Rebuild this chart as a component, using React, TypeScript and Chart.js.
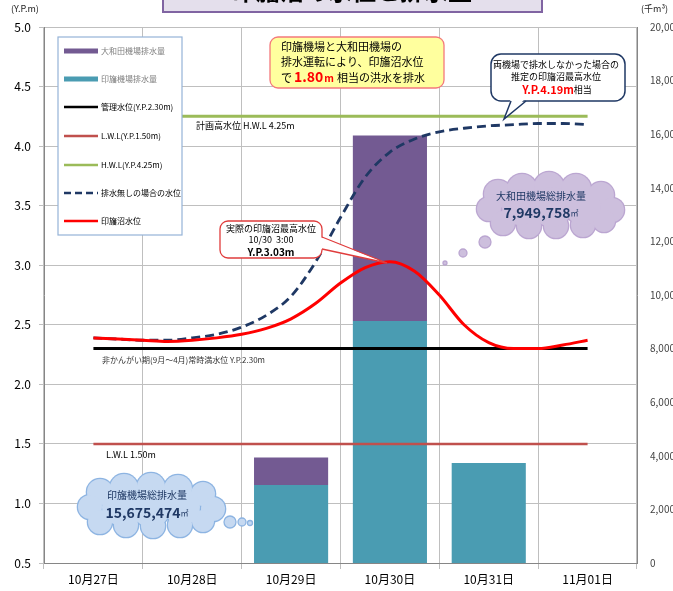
import React, { useEffect, useRef } from 'react';
import { Chart, registerables } from 'chart.js';
Chart.register(...registerables);

const FONT = '"Noto Sans CJK JP", "Noto Sans", sans-serif';

// ---- data ----
const categories = ['10月27日', '10月28日', '10月29日', '10月30日', '10月31日', '11月01日'];
// 千m3 per day
const inbaDrainage = [null, null, 2910, 9030, 3735, null];
const owadaDrainage = [null, null, 1030, 6920, null, null];
// time in days from 10/27 (category index units)
const timeDays = [0, 0.25, 0.5, 0.75, 1, 1.25, 1.5, 1.75, 2, 2.25, 2.5, 2.75, 3, 3.25, 3.5, 3.75, 4, 4.25, 4.5, 4.75, 5];
const actualLevel = [2.39, 2.38, 2.37, 2.36, 2.37, 2.39, 2.42, 2.47, 2.55, 2.68, 2.85, 2.98, 3.03, 2.95, 2.75, 2.5, 2.35, 2.3, 2.3, 2.33, 2.37];
const noDrainLevel = [2.39, 2.38, 2.37, 2.37, 2.39, 2.42, 2.48, 2.58, 2.74, 3.03, 3.4, 3.74, 3.95, 4.06, 4.12, 4.15, 4.17, 4.18, 4.19, 4.19, 4.18];
const managementLevel = 2.3;
const lwlLevel = 1.5;
const hwlLevel = 4.25;
const lineSpan = [0, 5];

const labelOwada = '大和田機場排水量';
const labelInba = '印旛機場排水量';
const labelMgmt = '管理水位(Y.P.2.30m)';
const labelLwl = 'L.W.L(Y.P.1.50m)';
const labelHwl = 'H.W.L(Y.P.4.25m)';
const labelNoDrain = '排水無しの場合の水位';
const labelActual = '印旛沼水位';

const C_PURPLE = '#735A92';
const C_TEAL = '#4A9CB2';
const C_LWL = '#C0504D';
const C_HWL = '#9BBB59';
const C_NAVY = '#1F3864';

function rr(ctx: CanvasRenderingContext2D, x: number, y: number, w: number, h: number, r: number) {
  ctx.beginPath();
  ctx.moveTo(x + r, y);
  ctx.arcTo(x + w, y, x + w, y + h, r);
  ctx.arcTo(x + w, y + h, x, y + h, r);
  ctx.arcTo(x, y + h, x, y, r);
  ctx.arcTo(x, y, x + w, y, r);
  ctx.closePath();
}

function text(ctx: CanvasRenderingContext2D, s: string, x: number, y: number, font: string, color: string, align: CanvasTextAlign = 'left') {
  ctx.font = font;
  ctx.fillStyle = color;
  ctx.textAlign = align;
  ctx.textBaseline = 'middle';
  ctx.fillText(s, x, y);
  return ctx.measureText(s).width;
}

// draws a sequence of [string, font, color] pieces centred on cx
function runs(ctx: CanvasRenderingContext2D, parts: [string, string, string][], cx: number, y: number) {
  let total = 0;
  parts.forEach(([s, f]) => { ctx.font = f; total += ctx.measureText(s).width; });
  let x = cx - total / 2;
  parts.forEach(([s, f, c]) => { x += text(ctx, s, x, y, f, c); });
}

function cloud(ctx: CanvasRenderingContext2D, circles: number[][], fill: string, stroke: string) {
  ctx.fillStyle = stroke;
  circles.forEach(([x, y, r]) => { ctx.beginPath(); ctx.arc(x, y, r + 1.3, 0, Math.PI * 2); ctx.fill(); });
  ctx.fillStyle = fill;
  circles.forEach(([x, y, r]) => { ctx.beginPath(); ctx.arc(x, y, r, 0, Math.PI * 2); ctx.fill(); });
}

function bubble(ctx: CanvasRenderingContext2D, x: number, y: number, r: number, fill: string, stroke: string) {
  ctx.beginPath(); ctx.arc(x, y, r, 0, Math.PI * 2);
  ctx.fillStyle = fill; ctx.fill();
  ctx.lineWidth = 1.3; ctx.strokeStyle = stroke; ctx.stroke();
}

const overlayPlugin = {
  id: 'overlay',
  afterDraw(chart: any) {
    const ctx: CanvasRenderingContext2D = chart.ctx;
    ctx.save();
    // title box (mostly cut off)
    ctx.fillStyle = '#E4DFEC';
    ctx.fillRect(163, -30, 379, 42);
    ctx.lineWidth = 2; ctx.strokeStyle = '#8064A2';
    ctx.strokeRect(163, -30, 379, 42);
    ctx.font = `bold 24px ${FONT}`; ctx.fillStyle = '#000'; ctx.textAlign = 'center'; ctx.textBaseline = 'ideographic';
    ctx.fillText('印旛沼の水位と排水量', 352, 3);

    // units
    text(ctx, '(Y.P.m)', 11, 9, `9px ${FONT}`, '#222');
    text(ctx, '(千m³)', 641, 9, `9px ${FONT}`, '#222');

    // legend
    ctx.fillStyle = '#FFFFFF';
    ctx.fillRect(58, 37, 124, 198);
    ctx.lineWidth = 1.2; ctx.strokeStyle = '#95B3D7';
    ctx.strokeRect(58, 37, 124, 198);
    const items = [
      { l: labelOwada, c: C_PURPLE, bar: true, tc: '#7F7F7F', y: 51 },
      { l: labelInba, c: C_TEAL, bar: true, tc: '#7F7F7F', y: 79 },
      { l: labelMgmt, c: '#000', tc: '#000', y: 107 },
      { l: labelLwl, c: C_LWL, tc: '#000', y: 136 },
      { l: labelHwl, c: C_HWL, tc: '#000', y: 165 },
      { l: labelNoDrain, c: C_NAVY, dash: true, tc: '#000', y: 193 },
      { l: labelActual, c: '#FF0000', tc: '#000', y: 221 },
    ];
    items.forEach((it: any) => {
      if (it.bar) {
        ctx.fillStyle = it.c; ctx.fillRect(64, it.y - 2.5, 34, 5);
      } else {
        ctx.beginPath(); ctx.setLineDash(it.dash ? [7, 4] : []);
        ctx.moveTo(64, it.y); ctx.lineTo(98, it.y);
        ctx.lineWidth = 2.5; ctx.strokeStyle = it.c; ctx.stroke(); ctx.setLineDash([]);
      }
      text(ctx, it.l, 101, it.y, `8px ${FONT}`, it.tc);
    });

    // reference line labels
    text(ctx, '計画高水位 H.W.L 4.25m', 196, 126, `9px ${FONT}`, '#000');
    text(ctx, '非かんがい期(9月～4月)常時満水位 Y.P.2.30m', 102, 360, `8px ${FONT}`, '#333');
    text(ctx, 'L.W.L 1.50m', 106, 455, `9px ${FONT}`, '#000');

    // yellow note
    rr(ctx, 270, 37, 174, 51, 8);
    ctx.fillStyle = '#FFFF9E'; ctx.fill();
    ctx.lineWidth = 1.3; ctx.strokeStyle = '#F4797C'; ctx.stroke();
    text(ctx, '印旛機場と大和田機場の', 281, 47, `11px ${FONT}`, '#000');
    text(ctx, '排水運転により、印旛沼水位', 281, 62, `11px ${FONT}`, '#000');
    text(ctx, 'で', 281, 78, `11px ${FONT}`, '#000');
    let xx = 294;
    xx += text(ctx, '1.80', xx, 77, `bold 14px ${FONT}`, '#FF0000');
    text(ctx, 'm', xx + 1, 78, `bold 10px ${FONT}`, '#FF0000');
    text(ctx, '相当の洪水を排水', 337, 78, `11px ${FONT}`, '#000');

    // navy callout
    rr(ctx, 491, 54, 134, 47, 10);
    ctx.fillStyle = '#FFFFFF'; ctx.fill();
    ctx.lineWidth = 1.5; ctx.strokeStyle = C_NAVY; ctx.stroke();
    ctx.beginPath(); ctx.moveTo(511, 98); ctx.lineTo(504, 119); ctx.lineTo(526, 98); ctx.closePath();
    ctx.fillStyle = '#FFFFFF'; ctx.fill();
    ctx.beginPath(); ctx.moveTo(511, 101); ctx.lineTo(504, 119); ctx.lineTo(526, 101); ctx.stroke();
    text(ctx, '両機場で排水しなかった場合の', 556, 65, `9px ${FONT}`, '#000', 'center');
    text(ctx, '推定の印旛沼最高水位', 556, 77, `9px ${FONT}`, '#000', 'center');
    runs(ctx, [['Y.P.4.19m', `bold 11px ${FONT}`, '#FF0000'], ['相当', `9px ${FONT}`, '#000']], 557, 90);

    // red callout
    rr(ctx, 220, 221, 102, 37, 8);
    ctx.fillStyle = '#FFFFFF'; ctx.fill();
    ctx.lineWidth = 1.3; ctx.strokeStyle = '#E03C3C'; ctx.stroke();
    ctx.beginPath(); ctx.moveTo(320, 237); ctx.lineTo(387, 263); ctx.lineTo(320, 249); ctx.closePath();
    ctx.fillStyle = '#FFFFFF'; ctx.fill();
    ctx.beginPath(); ctx.moveTo(322, 237); ctx.lineTo(387, 263); ctx.lineTo(322, 249); ctx.stroke();
    text(ctx, '実際の印旛沼最高水位', 271, 229, `9px ${FONT}`, '#000', 'center');
    text(ctx, '10/30  3:00', 271, 240, `9px ${FONT}`, '#000', 'center');
    text(ctx, 'Y.P.3.03m', 271, 252, `bold 10px ${FONT}`, '#000', 'center');

    // purple cloud
    const pc = [
      [498, 194, 14], [522, 189, 15], [549, 187, 15], [576, 189, 15], [601, 195, 13],
      [489, 209, 12], [612, 210, 12],
      [503, 223, 12], [529, 226, 12], [556, 226, 12], [583, 225, 12], [604, 221, 11],
      [520, 207, 18], [552, 207, 20], [583, 207, 18],
    ];
    cloud(ctx, pc, '#CDBFDD', '#BBA6D1');
    bubble(ctx, 485, 242, 6, '#CDBFDD', '#BBA6D1');
    bubble(ctx, 463, 253, 4, '#CDBFDD', '#BBA6D1');
    bubble(ctx, 445, 263, 2, '#CDBFDD', '#BBA6D1');
    text(ctx, '大和田機場総排水量', 541, 196, `10px ${FONT}`, C_NAVY, 'center');
    runs(ctx, [['7,949,758', `bold 14px ${FONT}`, C_NAVY], ['㎡', `8px ${FONT}`, C_NAVY]], 541, 213);

    // blue cloud
    const bc = [
      [100, 492, 13], [124, 488, 14], [151, 487, 14], [178, 489, 14], [203, 494, 12],
      [90, 507, 12], [213, 509, 12],
      [100, 522, 12], [126, 525, 12], [153, 526, 12], [180, 525, 12], [203, 521, 11],
      [120, 507, 18], [151, 507, 20], [182, 507, 18],
    ];
    cloud(ctx, bc, '#C6D9F1', '#8DB4E2');
    bubble(ctx, 230, 522, 6, '#C6D9F1', '#8DB4E2');
    bubble(ctx, 242, 522, 4, '#C6D9F1', '#8DB4E2');
    bubble(ctx, 250, 523, 2.5, '#C6D9F1', '#8DB4E2');
    text(ctx, '印旛機場総排水量', 147, 495, `10px ${FONT}`, C_NAVY, 'center');
    runs(ctx, [['15,675,474', `bold 14px ${FONT}`, C_NAVY], ['㎡', `8px ${FONT}`, C_NAVY]], 147, 513);

    ctx.restore();
  },
};

export default function App() {
  const ref = useRef<HTMLCanvasElement | null>(null);
  useEffect(() => {
    document.body.style.margin = '0';
    const canvas = ref.current!;
    const pts = (ys: number[]) => timeDays.map((t, i) => ({ x: t, y: ys[i] }));
    const flat = (v: number) => lineSpan.map((t) => ({ x: t, y: v }));
    const lineBase = { type: 'line', xAxisID: 'x2', yAxisID: 'y', pointRadius: 0, fill: false };
    const barBase = { type: 'bar', xAxisID: 'x', yAxisID: 'y2', stack: 's', grouped: false, barPercentage: 0.75, categoryPercentage: 1 };
    const chart = new Chart(canvas, {
      type: 'bar',
      data: {
        labels: categories,
        datasets: [
          { ...lineBase, label: labelActual, data: pts(actualLevel), borderColor: '#FF0000', borderWidth: 3, cubicInterpolationMode: 'monotone', order: 1 },
          { ...lineBase, label: labelNoDrain, data: pts(noDrainLevel), borderColor: C_NAVY, borderWidth: 2.8, borderDash: [9, 5], cubicInterpolationMode: 'monotone', order: 2 },
          { ...lineBase, label: labelHwl, data: flat(hwlLevel), borderColor: C_HWL, borderWidth: 3, order: 3 },
          { ...lineBase, label: labelLwl, data: flat(lwlLevel), borderColor: C_LWL, borderWidth: 2.5, order: 4 },
          { ...lineBase, label: labelMgmt, data: flat(managementLevel), borderColor: '#000000', borderWidth: 3, order: 5 },
          { ...barBase, label: labelInba, data: inbaDrainage, backgroundColor: C_TEAL, order: 10 },
          { ...barBase, label: labelOwada, data: owadaDrainage, backgroundColor: C_PURPLE, order: 11 },
        ] as any,
      },
      options: {
        responsive: false,
        animation: false,
        layout: { padding: { top: 27, left: 0, right: 0, bottom: 0 } },
        plugins: { legend: { display: false }, tooltip: { enabled: false } },
        scales: {
          x: {
            type: 'category', position: 'bottom', offset: true, stacked: true,
            grid: { offset: true, color: '#BFBFBF', tickLength: 6 },
            border: { color: '#868686' },
            ticks: { font: { size: 12, family: FONT }, color: '#000', padding: 3, maxRotation: 0 },
            afterFit: (s: any) => { s.height = 28; },
          },
          x2: { type: 'linear', display: false, offset: false, min: -0.5, max: 5.5 },
          y: {
            type: 'linear', position: 'left', min: 0.5, max: 5,
            ticks: { stepSize: 0.5, callback: (v: any) => Number(v).toFixed(1), font: { size: 12, family: FONT }, color: '#000', padding: 8 },
            grid: { color: '#BFBFBF', tickLength: 5 },
            border: { color: '#868686' },
            afterFit: (s: any) => { s.width = 44; },
          },
          y2: {
            type: 'linear', position: 'right', min: 0, max: 20000, stacked: true,
            ticks: { stepSize: 2000, font: { size: 10, family: FONT }, color: '#444', padding: 5 },
            grid: { display: false },
            border: { display: true, color: '#868686' },
            afterFit: (s: any) => { s.width = 36; },
          },
        },
      } as any,
      plugins: [overlayPlugin],
    });
    return () => chart.destroy();
  }, []);
  return <canvas ref={ref} width={673} height={591} style={{ display: 'block' }} />;
}
